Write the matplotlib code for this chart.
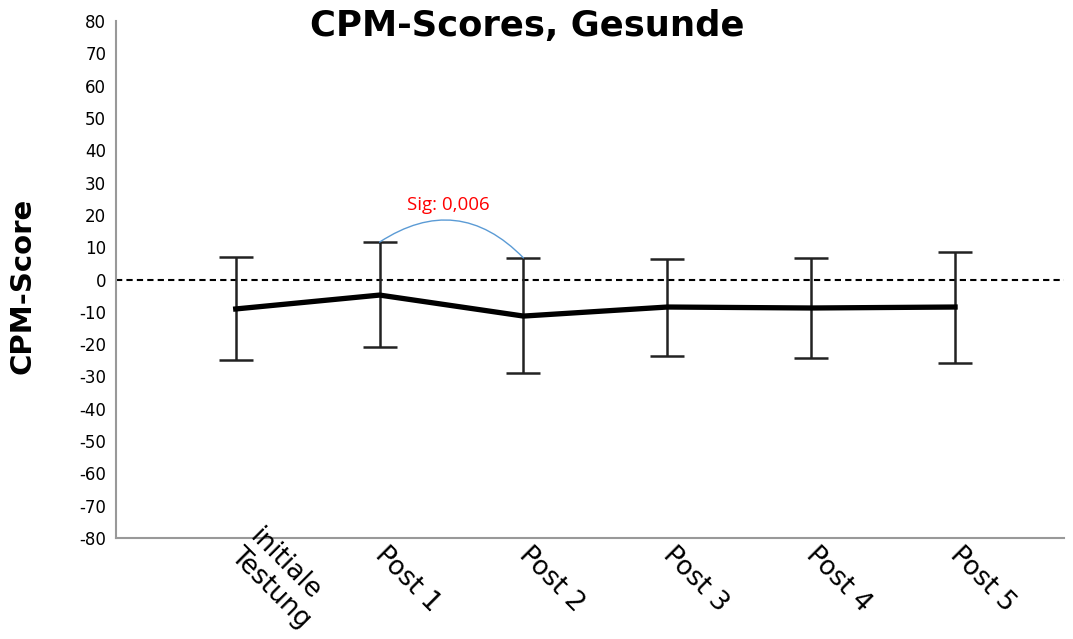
import matplotlib
matplotlib.use('Agg')
import matplotlib.pyplot as plt
import matplotlib.transforms as mtransforms
from matplotlib.patches import FancyArrowPatch

# data
categories = ['initiale\nTestung', 'Post 1', 'Post 2', 'Post 3', 'Post 4', 'Post 5']
means = [-9.1, -4.8, -11.3, -8.5, -8.8, -8.5]
upper = [7.0, 11.6, 6.7, 6.3, 6.6, 8.5]
lower = [-24.9, -20.9, -28.9, -23.7, -24.3, -25.9]
y_ticks = list(range(-80, 81, 10))
sig_pair = (1, 2)
sig_label = 'Sig: 0,006'

plt.rcParams['font.family'] = ['DejaVu Sans']

fig = plt.figure(figsize=(10.73, 6.39), dpi=100)
ax = fig.add_axes([0.108, 0.158, 0.884, 0.809])

x = list(range(len(categories)))
err_lo = [m - l for m, l in zip(means, lower)]
err_hi = [u - m for m, u in zip(means, upper)]

ax.axhline(0, color='black', lw=1.5, dashes=(3, 2), zorder=1)
ax.errorbar(x, means, yerr=[err_lo, err_hi], fmt='none', ecolor='#222222',
            elinewidth=1.8, capsize=12.5, capthick=1.8, zorder=2)
ax.plot(x, means, color='black', lw=3.8, solid_joinstyle='miter', zorder=3)

# significance arc between the two upper caps
i, j = sig_pair
arc = FancyArrowPatch((i, upper[i]), (j, upper[j]), arrowstyle='-',
                      connectionstyle='arc3,rad=-0.41', color='#5b9bd5',
                      lw=1.0, shrinkA=0, shrinkB=0, zorder=4)
ax.add_patch(arc)
ax.text((i + j) / 2 - 0.02, max(upper[i], upper[j]) + 10, sig_label,
        color='red', fontsize=13.5, family='Open Sans', ha='center', va='baseline')

ax.set_xlim(-0.833, 5.76)
ax.set_ylim(-80, 80)
ax.set_yticks(y_ticks)
ax.set_yticklabels([str(t) for t in y_ticks])
ax.set_xticks(x)
ax.set_xticklabels([])
ax.tick_params(axis='y', length=0, pad=7, labelsize=12)
ax.tick_params(axis='x', length=0)

# rotated category labels, nudged a bit right of the tick like the original
lbl_trans = mtransforms.offset_copy(ax.get_xaxis_transform(), fig=fig,
                                    x=6, y=-3, units='points')
for xi, name in zip(x, categories):
    ax.text(xi, 0, name, transform=lbl_trans, rotation=-45,
            rotation_mode='anchor', ha='left',
            va='center' if '\n' in name else 'top',
            fontsize=19, linespacing=1.05, clip_on=False)

for side in ['top', 'right']:
    ax.spines[side].set_visible(False)
for side in ['left', 'bottom']:
    ax.spines[side].set_color('#999999')
    ax.spines[side].set_linewidth(1.5)

fig.text(0.4916, 0.986, 'CPM-Scores, Gesunde', fontsize=25.5, fontweight='bold',
         ha='center', va='top')
fig.text(0.021, 0.552, 'CPM-Score', fontsize=21, fontweight='bold',
         rotation=90, ha='center', va='center')

plt.savefig('out.png', dpi=100)
